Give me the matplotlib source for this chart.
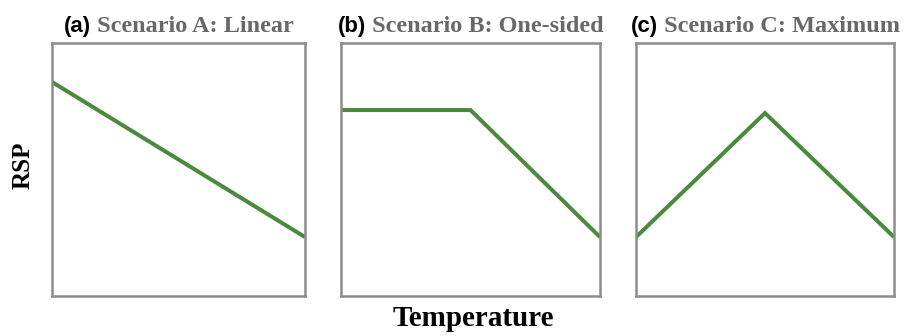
import matplotlib
matplotlib.use("Agg")
import matplotlib.pyplot as plt

# panel labels and titles
letters = ["(a)", "(b)", "(c)"]
titles = ["Scenario A: Linear", "Scenario B: One-sided", "Scenario C: Maximum"]

# RSP response vs temperature (normalised 0..1)
temp_a = [0.0, 1.0]
rsp_a = [0.846, 0.233]
temp_b = [0.0, 0.50, 1.0]
rsp_b = [0.735, 0.735, 0.233]
temp_c = [0.0, 0.50, 1.0]
rsp_c = [0.233, 0.723, 0.233]

series = [(temp_a, rsp_a), (temp_b, rsp_b), (temp_c, rsp_c)]

green = "#4b8a3c"
spine_col = "#8c8c8c"

fig = plt.figure(figsize=(9.07, 3.36), dpi=100)
W, H = 907, 336
lefts = [52, 341, 636]
widths = [253, 259, 258]
top, bottom = 43, 296

axes = []
for i in range(3):
    ax = fig.add_axes([lefts[i] / W, 1 - bottom / H, widths[i] / W, (bottom - top) / H])
    x, y = series[i]
    ax.plot(x, y, color=green, lw=2.9, solid_capstyle="butt", solid_joinstyle="miter")
    ax.set_xlim(0, 1)
    ax.set_ylim(0, 1)
    ax.set_xticks([])
    ax.set_yticks([])
    for s in ax.spines.values():
        s.set_color(spine_col)
        s.set_linewidth(1.8)
    axes.append(ax)

# two-part titles: sans bold letter + serif bold grey text
fig.canvas.draw()
renderer = fig.canvas.get_renderer()
for i, ax in enumerate(axes):
    t1 = fig.text(0, 1 - 32 / H, letters[i], fontsize=16, fontweight="bold",
                  family="Liberation Sans", color="black", va="baseline")
    t2 = fig.text(0, 1 - 32 / H, " " + titles[i], fontsize=17.5, fontweight="bold",
                  family="Liberation Serif", color="#686868", va="baseline")
    w1 = t1.get_window_extent(renderer).width
    w2 = t2.get_window_extent(renderer).width
    cx = (lefts[i] + widths[i] / 2)
    x0 = cx - (w1 + w2) / 2
    t1.set_x(x0 / W)
    t2.set_x((x0 + w1) / W)

fig.text(23 / W, 1 - 165 / H, "RSP", rotation=90, fontsize=18, fontweight="bold",
         family="Liberation Serif", ha="center", va="center")
fig.text(473 / W, 1 - 318 / H, "Temperature", fontsize=21, fontweight="bold",
         family="Liberation Serif", ha="center", va="center")

fig.savefig("out.png", dpi=100)
